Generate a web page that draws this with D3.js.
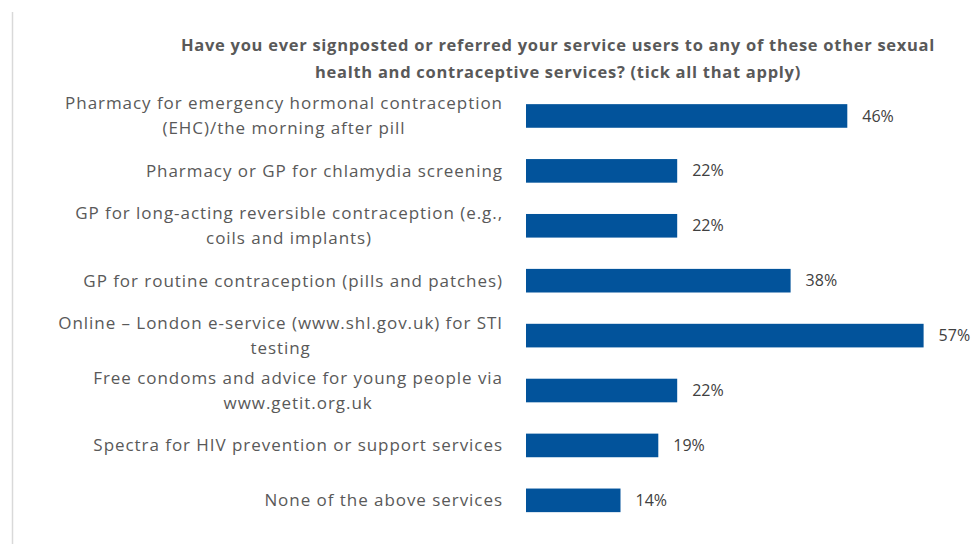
<!DOCTYPE html>
<html>
<head>
<meta charset="utf-8">
<script src="https://cdn.jsdelivr.net/npm/d3@7"></script>
<style>
  html, body { margin: 0; padding: 0; background: #fff; }
  svg { display: block; }
</style>
</head>
<body>
<svg id="chart" width="975" height="544"></svg>
<script>
// ---- Data ----
const titleLines = [
  "Have you ever signposted or referred your service users to any of these other sexual",
  "health and contraceptive services? (tick all that apply)"
];
const categories = [
  ["Pharmacy for emergency hormonal contraception", "(EHC)/the morning after pill"],
  ["Pharmacy or GP for chlamydia screening"],
  ["GP for long-acting reversible contraception (e.g.,", "coils and implants)"],
  ["GP for routine contraception (pills and patches)"],
  ["Online – London e-service (www.shl.gov.uk) for STI", "testing"],
  ["Free condoms and advice for young people via", "www.getit.org.uk"],
  ["Spectra for HIV prevention or support services"],
  ["None of the above services"]
];
const values = [45.9, 21.6, 21.6, 37.8, 56.8, 21.6, 18.9, 13.5];

// ---- Layout ----
const W = 975, H = 544;
const svg = d3.select("#chart");
const fontFam = "'Open Sans', 'Noto Sans', sans-serif";

svg.append("line")
  .attr("x1", 12.5).attr("x2", 12.5).attr("y1", 12).attr("y2", H)
  .attr("stroke", "#d9d9d9").attr("stroke-width", 1.5);

const x = d3.scaleLinear().domain([0, 60]).range([526, 946]);
const idx = d3.range(categories.length);
const y = d3.scaleBand().domain(idx).range([88.5, 527.8])
  .paddingInner(0.57).paddingOuter(0.285);

// Title
const title = svg.append("text")
  .attr("x", 558).attr("y", 51)
  .attr("text-anchor", "middle")
  .attr("font-family", fontFam)
  .attr("font-weight", "bold")
  .attr("font-size", 16.5)
  .attr("letter-spacing", "0.72px")
  .attr("fill", "#595959");
titleLines.forEach((t, i) => {
  title.append("tspan").attr("x", 558).attr("dy", i === 0 ? 0 : 27).text(t);
});

// Bars
svg.append("g").selectAll("rect")
  .data(idx).join("rect")
  .attr("x", x(0))
  .attr("y", i => y(i))
  .attr("width", i => x(values[i]) - x(0))
  .attr("height", y.bandwidth())
  .attr("fill", "#02539b");

// Value labels
svg.append("g").selectAll("text")
  .data(idx).join("text")
  .attr("x", i => x(values[i]) + 15)
  .attr("y", i => y(i) + y.bandwidth() / 2)
  .attr("dy", "0.35em")
  .attr("font-family", fontFam)
  .attr("font-size", 16)
  .attr("fill", "#404040")
  .text(i => Math.round(values[i]) + "%");

// Category labels
const lineH = 25;
const labels = svg.append("g").selectAll("text")
  .data(idx).join("text")
  .attr("text-anchor", "middle")
  .attr("font-family", fontFam)
  .attr("font-size", 17)
  .attr("letter-spacing", "0.95px")
  .attr("fill", "#595959");

labels.each(function(i) {
  const lines = categories[i];
  const sel = d3.select(this);
  const cy = y(i) + y.bandwidth() / 2;
  const start = cy - (lines.length - 1) * lineH / 2;
  lines.forEach((t, k) => {
    sel.append("tspan")
      .attr("y", start + k * lineH)
      .attr("dy", "0.35em")
      .text(t);
  });
  const tspans = sel.selectAll("tspan").nodes();
  const widths = tspans.map(n => n.getComputedTextLength());
  const maxW = d3.max(widths);
  const right = 503;
  const center = right - maxW / 2;
  tspans.forEach(n => d3.select(n).attr("x", center));
});
</script>
</body>
</html>
